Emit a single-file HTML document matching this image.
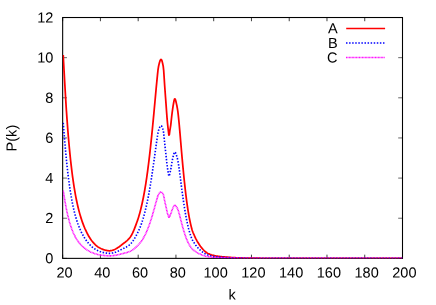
<!DOCTYPE html>
<html><head><meta charset="utf-8"><title>P(k)</title>
<style>
html,body{margin:0;padding:0;background:#fff;}
body{width:436px;height:305px;overflow:hidden;}
svg{display:block;will-change:transform;}
text{text-rendering:geometricPrecision;font-family:"Liberation Sans",sans-serif;font-size:14.53px;fill:#000;}
</style></head><body>
<svg width="436" height="305" viewBox="0 0 436 305">
<rect width="436" height="305" fill="#fff"/>
<g stroke="#000" stroke-width="0.6" fill="none">
<path d="M62.66,17.52h4.3M402.50,17.52h-4.3" stroke-width="0.6"/>
<path d="M62.66,57.66h4.3M402.50,57.66h-4.3" stroke-width="0.6"/>
<path d="M62.66,97.80h4.3M402.50,97.80h-4.3" stroke-width="0.6"/>
<path d="M62.66,137.94h4.3M402.50,137.94h-4.3" stroke-width="0.6"/>
<path d="M62.66,178.09h4.3M402.50,178.09h-4.3" stroke-width="0.6"/>
<path d="M62.66,218.23h4.3M402.50,218.23h-4.3" stroke-width="0.6"/>
<path d="M62.66,258.37h4.3M402.50,258.37h-4.3" stroke-width="0.6"/>
<path d="M62.66,258.37v-3.7M62.66,17.52v3.7" stroke-width="0.75"/>
<path d="M100.42,258.37v-3.7M100.42,17.52v3.7" stroke-width="0.75"/>
<path d="M138.18,258.37v-3.7M138.18,17.52v3.7" stroke-width="0.75"/>
<path d="M175.94,258.37v-3.7M175.94,17.52v3.7" stroke-width="0.75"/>
<path d="M213.70,258.37v-3.7M213.70,17.52v3.7" stroke-width="0.75"/>
<path d="M251.46,258.37v-3.7M251.46,17.52v3.7" stroke-width="0.75"/>
<path d="M289.22,258.37v-3.7M289.22,17.52v3.7" stroke-width="0.75"/>
<path d="M326.98,258.37v-3.7M326.98,17.52v3.7" stroke-width="0.75"/>
<path d="M364.74,258.37v-3.7M364.74,17.52v3.7" stroke-width="0.75"/>
<path d="M402.50,258.37v-3.7M402.50,17.52v3.7" stroke-width="0.75"/>
</g>
<rect x="62.66" y="17.52" width="339.84" height="240.85" fill="none" stroke="#000" stroke-width="1.08"/>
<clipPath id="pa"><rect x="62.66" y="17.52" width="339.84" height="240.85"/></clipPath>
<g fill="none" stroke-linejoin="round" clip-path="url(#pa)">
<path d="M63.23,55.05 L63.60,62.23 L64.08,70.99 L64.55,79.46 L65.02,87.74 L65.49,95.87 L65.96,103.67 L66.44,110.99 L66.91,117.83 L67.38,124.31 L67.85,130.46 L68.32,136.26 L68.80,141.75 L69.27,146.97 L69.74,151.92 L70.21,156.59 L70.68,161.02 L71.16,165.22 L71.63,169.21 L72.10,172.99 L72.57,176.57 L73.04,179.98 L73.52,183.21 L73.99,186.28 L74.46,189.19 L74.93,191.96 L75.40,194.59 L75.88,197.09 L76.35,199.48 L76.82,201.75 L77.29,203.92 L77.76,205.99 L78.24,207.96 L78.71,209.84 L79.18,211.65 L79.65,213.37 L80.12,215.03 L80.60,216.61 L81.07,218.13 L81.54,219.59 L82.01,220.99 L82.48,222.34 L82.96,223.63 L83.43,224.87 L83.90,226.07 L84.37,227.22 L84.84,228.34 L85.32,229.41 L85.79,230.44 L86.26,231.44 L86.73,232.41 L87.20,233.34 L87.68,234.24 L88.15,235.11 L88.62,235.95 L89.09,236.75 L89.56,237.52 L90.04,238.27 L90.51,238.98 L90.98,239.66 L91.45,240.32 L91.92,240.95 L92.40,241.56 L92.87,242.13 L93.34,242.68 L93.81,243.20 L94.28,243.70 L94.76,244.18 L95.23,244.64 L95.70,245.08 L96.17,245.49 L96.64,245.89 L97.12,246.26 L97.59,246.61 L98.06,246.94 L98.53,247.25 L99.00,247.55 L99.48,247.83 L99.95,248.09 L100.42,248.33 L100.89,248.56 L101.36,248.77 L101.84,248.97 L102.31,249.16 L102.78,249.34 L103.25,249.52 L103.72,249.69 L104.20,249.84 L104.67,249.98 L105.14,250.11 L105.61,250.23 L106.08,250.34 L106.56,250.44 L107.03,250.53 L107.50,250.62 L107.97,250.68 L108.44,250.74 L108.92,250.79 L109.39,250.80 L109.86,250.78 L110.33,250.73 L110.80,250.68 L111.28,250.61 L111.75,250.51 L112.22,250.39 L112.69,250.24 L113.16,250.08 L113.64,249.91 L114.11,249.73 L114.58,249.53 L115.05,249.30 L115.52,249.05 L116.00,248.78 L116.47,248.50 L116.94,248.21 L117.41,247.91 L117.88,247.60 L118.36,247.30 L118.83,246.99 L119.30,246.66 L119.77,246.32 L120.24,245.96 L120.72,245.60 L121.19,245.23 L121.66,244.86 L122.13,244.49 L122.60,244.12 L123.08,243.75 L123.55,243.39 L124.02,243.04 L124.49,242.69 L124.96,242.33 L125.44,241.97 L125.91,241.59 L126.38,241.20 L126.85,240.80 L127.32,240.37 L127.80,239.91 L128.27,239.43 L128.74,238.93 L129.21,238.39 L129.68,237.82 L130.16,237.20 L130.63,236.53 L131.10,235.78 L131.57,234.96 L132.04,234.09 L132.52,233.16 L132.99,232.15 L133.46,231.08 L133.93,229.98 L134.40,228.84 L134.88,227.64 L135.35,226.41 L135.82,225.15 L136.29,223.87 L136.76,222.57 L137.24,221.23 L137.71,219.85 L138.18,218.41 L138.65,216.89 L139.12,215.31 L139.60,213.65 L140.07,211.93 L140.54,210.12 L141.01,208.23 L141.48,206.26 L141.96,204.20 L142.43,202.05 L142.90,199.80 L143.37,197.46 L143.84,195.01 L144.32,192.44 L144.79,189.75 L145.26,186.95 L145.73,184.03 L146.20,180.98 L146.68,177.79 L147.15,174.48 L147.62,171.04 L148.09,167.47 L148.56,163.74 L149.04,159.88 L149.51,155.91 L149.98,151.80 L150.45,147.54 L150.92,143.15 L151.40,138.67 L151.87,134.07 L152.34,129.34 L152.81,124.51 L153.28,119.62 L153.76,114.63 L154.23,109.53 L154.70,104.39 L155.17,99.29 L155.64,94.14 L156.12,88.93 L156.59,83.87 L157.06,79.14 L157.53,74.43 L158.00,69.98 L158.48,66.78 L158.95,64.68 L159.42,62.77 L159.89,61.17 L160.36,60.02 L160.84,59.43 L161.31,59.55 L161.78,60.38 L162.25,61.84 L162.72,63.81 L163.20,66.18 L163.67,70.28 L164.14,77.42 L164.61,84.76 L165.08,91.23 L165.56,97.69 L166.03,104.11 L166.50,110.74 L166.97,117.11 L167.44,122.51 L167.92,127.09 L168.39,131.20 L168.86,135.04 L169.33,134.57 L169.80,130.96 L170.28,128.08 L170.75,125.04 L171.22,120.96 L171.69,116.51 L172.16,112.64 L172.64,109.02 L173.11,105.96 L173.58,103.25 L174.05,100.68 L174.52,98.98 L175.00,98.80 L175.47,99.80 L175.94,101.52 L176.41,103.63 L176.88,105.77 L177.36,108.32 L177.83,111.45 L178.30,115.31 L178.77,119.80 L179.24,124.78 L179.72,130.12 L180.19,135.62 L180.66,141.22 L181.13,146.78 L181.60,152.28 L182.08,157.61 L182.55,162.81 L183.02,167.86 L183.49,172.75 L183.96,177.47 L184.44,182.02 L184.91,186.40 L185.38,190.59 L185.85,194.59 L186.32,198.40 L186.80,202.00 L187.27,205.40 L187.74,208.60 L188.21,211.60 L188.68,214.42 L189.16,217.04 L189.63,219.50 L190.10,221.78 L190.57,223.91 L191.04,225.90 L191.52,227.75 L191.99,229.45 L192.46,230.95 L192.93,232.28 L193.40,233.43 L193.88,234.47 L194.35,235.50 L194.82,236.54 L195.29,237.55 L195.76,238.54 L196.24,239.47 L196.71,240.36 L197.18,241.20 L197.65,242.01 L198.12,242.78 L198.60,243.53 L199.07,244.25 L199.54,244.95 L200.01,245.63 L200.48,246.29 L200.96,246.92 L201.43,247.52 L201.90,248.09 L202.37,248.66 L202.84,249.21 L203.32,249.75 L203.79,250.25 L204.26,250.73 L204.73,251.17 L205.20,251.57 L205.68,251.93 L206.15,252.27 L206.62,252.60 L207.09,252.90 L207.56,253.18 L208.04,253.45 L208.51,253.69 L208.98,253.91 L209.45,254.12 L209.92,254.32 L210.40,254.51 L210.87,254.68 L211.34,254.85 L211.81,255.00 L212.28,255.14 L212.76,255.26 L213.23,255.39 L213.70,255.50 L214.17,255.61 L214.64,255.72 L215.12,255.82 L215.59,255.91 L216.06,255.99 L216.53,256.07 L217.00,256.15 L217.48,256.22 L217.95,256.28 L218.42,256.34 L218.89,256.40 L219.36,256.46 L219.84,256.52 L220.31,256.57 L220.78,256.62 L221.25,256.67 L221.72,256.72 L222.20,256.76 L222.67,256.81 L223.14,256.85 L223.61,256.89 L224.08,256.93 L224.56,256.97 L225.03,257.01 L225.50,257.05 L225.97,257.09 L226.44,257.13 L226.92,257.17 L227.39,257.21 L227.86,257.24 L228.33,257.28 L228.80,257.32 L229.28,257.35 L229.75,257.39 L230.22,257.42 L230.69,257.45 L231.16,257.49 L231.64,257.52 L232.11,257.55 L232.58,257.58 L233.05,257.61 L233.52,257.63 L234.00,257.66 L234.47,257.68 L234.94,257.71 L235.41,257.73 L235.88,257.75 L236.36,257.77 L236.83,257.79 L237.30,257.80 L237.77,257.82 L238.24,257.84 L238.72,257.86 L239.19,257.87 L239.66,257.89 L240.13,257.91 L240.60,257.92 L241.08,257.94 L241.55,257.95 L242.02,257.97 L242.49,257.98 L242.96,258.00 L243.44,258.01 L243.91,258.02 L244.38,258.04 L244.85,258.05 L245.32,258.06 L245.80,258.07 L246.27,258.08 L246.74,258.09 L247.21,258.10 L247.68,258.11 L248.16,258.12 L248.63,258.13 L249.10,258.14 L249.57,258.15 L250.04,258.15 L250.52,258.16 L250.99,258.16 L251.46,258.17 L251.93,258.17 L252.40,258.18 L252.88,258.18 L253.35,258.19 L253.82,258.19 L254.29,258.20 L254.76,258.20 L255.24,258.20 L255.71,258.21 L256.18,258.21 L256.65,258.22 L257.12,258.22 L257.60,258.23 L258.07,258.23 L258.54,258.23 L259.01,258.24 L259.48,258.24 L259.96,258.25 L260.43,258.25 L260.90,258.25 L261.37,258.26 L261.84,258.26 L262.32,258.26 L262.79,258.27 L263.26,258.27 L263.73,258.27 L264.20,258.28 L264.68,258.28 L265.15,258.28 L265.62,258.29 L266.09,258.29 L266.56,258.29 L267.04,258.30 L267.51,258.30 L267.98,258.30 L268.45,258.30 L268.92,258.31 L269.40,258.31 L269.87,258.31 L270.34,258.32 L270.81,258.32 L271.28,258.32 L271.76,258.32 L272.23,258.33 L272.70,258.33 L273.17,258.33 L273.64,258.33 L274.12,258.33 L274.59,258.34 L275.06,258.34 L275.53,258.34 L276.00,258.34 L276.48,258.34 L276.95,258.35 L277.42,258.35 L277.89,258.35 L278.36,258.35 L278.84,258.35 L279.31,258.35 L279.78,258.36 L280.25,258.36 L280.72,258.36 L281.20,258.36 L281.67,258.36 L282.14,258.36 L282.61,258.36 L283.08,258.36 L283.56,258.36 L284.03,258.37 L284.50,258.37 L284.97,258.37 L285.44,258.37 L285.92,258.37 L286.39,258.37 L286.86,258.37 L287.33,258.37 L287.80,258.37 L288.28,258.37 L288.75,258.37 L289.22,258.37 L289.69,258.37 L290.16,258.37 L290.64,258.37 L291.11,258.37 L291.58,258.37 L292.05,258.37 L292.52,258.37 L293.00,258.37 L293.47,258.37 L293.94,258.37 L294.41,258.37 L294.88,258.37 L295.36,258.37 L295.83,258.37 L296.30,258.37 L296.77,258.37 L297.24,258.37 L297.72,258.37 L298.19,258.37 L298.66,258.37 L299.13,258.37 L299.60,258.37 L300.08,258.37 L300.55,258.37 L301.02,258.37 L301.49,258.37 L301.96,258.37 L302.44,258.37 L302.91,258.37 L303.38,258.37 L303.85,258.37 L304.32,258.37 L304.80,258.37 L305.27,258.37 L305.74,258.37 L306.21,258.37 L306.68,258.37 L307.16,258.37 L307.63,258.37 L308.10,258.37 L308.57,258.37 L309.04,258.37 L309.52,258.37 L309.99,258.37 L310.46,258.37 L310.93,258.37 L311.40,258.37 L311.88,258.37 L312.35,258.37 L312.82,258.37 L313.29,258.37 L313.76,258.37 L314.24,258.37 L314.71,258.37 L315.18,258.37 L315.65,258.37 L316.12,258.37 L316.60,258.37 L317.07,258.37 L317.54,258.37 L318.01,258.37 L318.48,258.37 L318.96,258.37 L319.43,258.37 L319.90,258.37 L320.37,258.37 L320.84,258.37 L321.32,258.37 L321.79,258.37 L322.26,258.37 L322.73,258.37 L323.20,258.37 L323.68,258.37 L324.15,258.37 L324.62,258.37 L325.09,258.37 L325.56,258.37 L326.04,258.37 L326.51,258.37 L326.98,258.37 L327.45,258.37 L327.92,258.37 L328.40,258.37 L328.87,258.37 L329.34,258.37 L329.81,258.37 L330.28,258.37 L330.76,258.37 L331.23,258.37 L331.70,258.37 L332.17,258.37 L332.64,258.37 L333.12,258.37 L333.59,258.37 L334.06,258.37 L334.53,258.37 L335.00,258.37 L335.48,258.37 L335.95,258.37 L336.42,258.37 L336.89,258.37 L337.36,258.37 L337.84,258.37 L338.31,258.37 L338.78,258.37 L339.25,258.37 L339.72,258.37 L340.20,258.37 L340.67,258.37 L341.14,258.37 L341.61,258.37 L342.08,258.37 L342.56,258.37 L343.03,258.37 L343.50,258.37 L343.97,258.37 L344.44,258.37 L344.92,258.37 L345.39,258.37 L345.86,258.37 L346.33,258.37 L346.80,258.37 L347.28,258.37 L347.75,258.37 L348.22,258.37 L348.69,258.37 L349.16,258.37 L349.64,258.37 L350.11,258.37 L350.58,258.37 L351.05,258.37 L351.52,258.37 L352.00,258.37 L352.47,258.37 L352.94,258.37 L353.41,258.37 L353.88,258.37 L354.36,258.37 L354.83,258.37 L355.30,258.37 L355.77,258.37 L356.24,258.37 L356.72,258.37 L357.19,258.37 L357.66,258.37 L358.13,258.37 L358.60,258.37 L359.08,258.37 L359.55,258.37 L360.02,258.37 L360.49,258.37 L360.96,258.37 L361.44,258.37 L361.91,258.37 L362.38,258.37 L362.85,258.37 L363.32,258.37 L363.80,258.37 L364.27,258.37 L364.74,258.37 L365.21,258.37 L365.68,258.37 L366.16,258.37 L366.63,258.37 L367.10,258.37 L367.57,258.37 L368.04,258.37 L368.52,258.37 L368.99,258.37 L369.46,258.37 L369.93,258.37 L370.40,258.37 L370.88,258.37 L371.35,258.37 L371.82,258.37 L372.29,258.37 L372.76,258.37 L373.24,258.37 L373.71,258.37 L374.18,258.37 L374.65,258.37 L375.12,258.37 L375.60,258.37 L376.07,258.37 L376.54,258.37 L377.01,258.37 L377.48,258.37 L377.96,258.37 L378.43,258.37 L378.90,258.37 L379.37,258.37 L379.84,258.37 L380.32,258.37 L380.79,258.37 L381.26,258.37 L381.73,258.37 L382.20,258.37 L382.68,258.37 L383.15,258.37 L383.62,258.37 L384.09,258.37 L384.56,258.37 L385.04,258.37 L385.51,258.37 L385.98,258.37 L386.45,258.37 L386.92,258.37 L387.40,258.37 L387.87,258.37 L388.34,258.37 L388.81,258.37 L389.28,258.37 L389.76,258.37 L390.23,258.37 L390.70,258.37 L391.17,258.37 L391.64,258.37 L392.12,258.37 L392.59,258.37 L393.06,258.37 L393.53,258.37 L394.00,258.37 L394.48,258.37 L394.95,258.37 L395.42,258.37 L395.89,258.37 L396.36,258.37 L396.84,258.37 L397.31,258.37 L397.78,258.37 L398.25,258.37 L398.72,258.37 L399.20,258.37 L399.67,258.37 L400.14,258.37 L400.61,258.37 L401.08,258.37 L401.56,258.37 L402.03,258.37 L402.50,258.37" stroke="#ff0000" stroke-width="1.75"/>
<path d="M63.23,122.82 L63.60,127.61 L64.08,133.45 L64.55,139.10 L65.02,144.62 L65.49,150.04 L65.96,155.24 L66.44,160.12 L66.91,164.67 L67.38,169.00 L67.85,173.09 L68.32,176.96 L68.80,180.63 L69.27,184.10 L69.74,187.40 L70.21,190.52 L70.68,193.47 L71.16,196.27 L71.63,198.93 L72.10,201.45 L72.57,203.84 L73.04,206.11 L73.52,208.26 L73.99,210.31 L74.46,212.25 L74.93,214.09 L75.40,215.85 L75.88,217.52 L76.35,219.11 L76.82,220.62 L77.29,222.07 L77.76,223.45 L78.24,224.76 L78.71,226.02 L79.18,227.22 L79.65,228.37 L80.12,229.47 L80.60,230.53 L81.07,231.55 L81.54,232.52 L82.01,233.45 L82.48,234.35 L82.96,235.21 L83.43,236.04 L83.90,236.84 L84.37,237.61 L84.84,238.35 L85.32,239.06 L85.79,239.75 L86.26,240.42 L86.73,241.06 L87.20,241.68 L87.68,242.28 L88.15,242.86 L88.62,243.42 L89.09,243.96 L89.56,244.47 L90.04,244.97 L90.51,245.44 L90.98,245.90 L91.45,246.34 L91.92,246.76 L92.40,247.16 L92.87,247.55 L93.34,247.91 L93.81,248.26 L94.28,248.59 L94.76,248.91 L95.23,249.21 L95.70,249.51 L96.17,249.79 L96.64,250.05 L97.12,250.29 L97.59,250.53 L98.06,250.75 L98.53,250.96 L99.00,251.15 L99.48,251.34 L99.95,251.52 L100.42,251.68 L100.89,251.83 L101.36,251.97 L101.84,252.10 L102.31,252.23 L102.78,252.35 L103.25,252.47 L103.72,252.58 L104.20,252.68 L104.67,252.78 L105.14,252.86 L105.61,252.95 L106.08,253.02 L106.56,253.08 L107.03,253.15 L107.50,253.20 L107.97,253.25 L108.44,253.29 L108.92,253.32 L109.39,253.32 L109.86,253.31 L110.33,253.28 L110.80,253.25 L111.28,253.20 L111.75,253.13 L112.22,253.05 L112.69,252.95 L113.16,252.84 L113.64,252.73 L114.11,252.61 L114.58,252.48 L115.05,252.32 L115.52,252.16 L116.00,251.98 L116.47,251.79 L116.94,251.59 L117.41,251.39 L117.88,251.19 L118.36,250.99 L118.83,250.78 L119.30,250.56 L119.77,250.33 L120.24,250.10 L120.72,249.86 L121.19,249.61 L121.66,249.36 L122.13,249.12 L122.60,248.87 L123.08,248.63 L123.55,248.39 L124.02,248.15 L124.49,247.91 L124.96,247.68 L125.44,247.43 L125.91,247.18 L126.38,246.93 L126.85,246.65 L127.32,246.37 L127.80,246.07 L128.27,245.75 L128.74,245.41 L129.21,245.05 L129.68,244.67 L130.16,244.26 L130.63,243.81 L131.10,243.31 L131.57,242.76 L132.04,242.18 L132.52,241.56 L132.99,240.89 L133.46,240.18 L133.93,239.44 L134.40,238.68 L134.88,237.89 L135.35,237.07 L135.82,236.22 L136.29,235.37 L136.76,234.50 L137.24,233.61 L137.71,232.69 L138.18,231.73 L138.65,230.72 L139.12,229.66 L139.60,228.56 L140.07,227.41 L140.54,226.20 L141.01,224.94 L141.48,223.63 L141.96,222.26 L142.43,220.82 L142.90,219.33 L143.37,217.76 L143.84,216.13 L144.32,214.42 L144.79,212.63 L145.26,210.75 L145.73,208.81 L146.20,206.78 L146.68,204.65 L147.15,202.44 L147.62,200.15 L148.09,197.77 L148.56,195.29 L149.04,192.71 L149.51,190.06 L149.98,187.32 L150.45,184.48 L150.92,181.56 L151.40,178.57 L151.87,175.50 L152.34,172.35 L152.81,169.13 L153.28,165.87 L153.76,162.54 L154.23,159.14 L154.70,155.72 L155.17,152.32 L155.64,148.88 L156.12,145.41 L156.59,142.03 L157.06,138.88 L157.53,135.75 L158.00,132.78 L158.48,130.64 L158.95,129.24 L159.42,127.97 L159.89,126.90 L160.36,126.14 L160.84,125.75 L161.31,125.82 L161.78,126.38 L162.25,127.35 L162.72,128.66 L163.20,130.24 L163.67,132.98 L164.14,137.74 L164.61,142.63 L165.08,146.94 L165.56,151.25 L166.03,155.53 L166.50,159.95 L166.97,164.20 L167.44,167.80 L167.92,170.85 L168.39,173.59 L168.86,176.15 L169.33,175.84 L169.80,173.43 L170.28,171.51 L170.75,169.48 L171.22,166.76 L171.69,163.80 L172.16,161.21 L172.64,158.80 L173.11,156.76 L173.58,154.96 L174.05,153.24 L174.52,152.11 L175.00,151.99 L175.47,152.65 L175.94,153.80 L176.41,155.21 L176.88,156.64 L177.36,158.34 L177.83,160.42 L178.30,163.00 L178.77,165.99 L179.24,169.31 L179.72,172.87 L180.19,176.54 L180.66,180.27 L181.13,183.98 L181.60,187.64 L182.08,191.20 L182.55,194.67 L183.02,198.03 L183.49,201.29 L183.96,204.44 L184.44,207.47 L184.91,210.39 L185.38,213.18 L185.85,215.85 L186.32,218.39 L186.80,220.79 L187.27,223.06 L187.74,225.19 L188.21,227.19 L188.68,229.07 L189.16,230.82 L189.63,232.45 L190.10,233.98 L190.57,235.40 L191.04,236.72 L191.52,237.96 L191.99,239.09 L192.46,240.09 L192.93,240.98 L193.40,241.74 L193.88,242.44 L194.35,243.13 L194.82,243.81 L195.29,244.49 L195.76,245.15 L196.24,245.77 L196.71,246.36 L197.18,246.92 L197.65,247.46 L198.12,247.98 L198.60,248.47 L199.07,248.95 L199.54,249.42 L200.01,249.88 L200.48,250.32 L200.96,250.74 L201.43,251.14 L201.90,251.52 L202.37,251.90 L202.84,252.27 L203.32,252.62 L203.79,252.96 L204.26,253.28 L204.73,253.57 L205.20,253.83 L205.68,254.08 L206.15,254.31 L206.62,254.52 L207.09,254.72 L207.56,254.91 L208.04,255.09 L208.51,255.25 L208.98,255.40 L209.45,255.54 L209.92,255.67 L210.40,255.80 L210.87,255.91 L211.34,256.02 L211.81,256.12 L212.28,256.21 L212.76,256.30 L213.23,256.38 L213.70,256.46 L214.17,256.53 L214.64,256.60 L215.12,256.67 L215.59,256.73 L216.06,256.79 L216.53,256.84 L217.00,256.89 L217.48,256.93 L217.95,256.98 L218.42,257.02 L218.89,257.06 L219.36,257.10 L219.84,257.13 L220.31,257.17 L220.78,257.20 L221.25,257.24 L221.72,257.27 L222.20,257.30 L222.67,257.33 L223.14,257.36 L223.61,257.38 L224.08,257.41 L224.56,257.44 L225.03,257.47 L225.50,257.49 L225.97,257.52 L226.44,257.54 L226.92,257.57 L227.39,257.59 L227.86,257.62 L228.33,257.64 L228.80,257.67 L229.28,257.69 L229.75,257.72 L230.22,257.74 L230.69,257.76 L231.16,257.78 L231.64,257.80 L232.11,257.82 L232.58,257.84 L233.05,257.86 L233.52,257.88 L234.00,257.90 L234.47,257.91 L234.94,257.93 L235.41,257.94 L235.88,257.96 L236.36,257.97 L236.83,257.98 L237.30,257.99 L237.77,258.00 L238.24,258.02 L238.72,258.03 L239.19,258.04 L239.66,258.05 L240.13,258.06 L240.60,258.07 L241.08,258.08 L241.55,258.09 L242.02,258.10 L242.49,258.11 L242.96,258.12 L243.44,258.13 L243.91,258.14 L244.38,258.15 L244.85,258.16 L245.32,258.16 L245.80,258.17 L246.27,258.18 L246.74,258.19 L247.21,258.19 L247.68,258.20 L248.16,258.20 L248.63,258.21 L249.10,258.22 L249.57,258.22 L250.04,258.23 L250.52,258.23 L250.99,258.23 L251.46,258.24 L251.93,258.24 L252.40,258.24 L252.88,258.25 L253.35,258.25 L253.82,258.25 L254.29,258.25 L254.76,258.26 L255.24,258.26 L255.71,258.26 L256.18,258.27 L256.65,258.27 L257.12,258.27 L257.60,258.27 L258.07,258.28 L258.54,258.28 L259.01,258.28 L259.48,258.28 L259.96,258.29 L260.43,258.29 L260.90,258.29 L261.37,258.29 L261.84,258.30 L262.32,258.30 L262.79,258.30 L263.26,258.30 L263.73,258.31 L264.20,258.31 L264.68,258.31 L265.15,258.31 L265.62,258.31 L266.09,258.32 L266.56,258.32 L267.04,258.32 L267.51,258.32 L267.98,258.32 L268.45,258.33 L268.92,258.33 L269.40,258.33 L269.87,258.33 L270.34,258.33 L270.81,258.34 L271.28,258.34 L271.76,258.34 L272.23,258.34 L272.70,258.34 L273.17,258.34 L273.64,258.35 L274.12,258.35 L274.59,258.35 L275.06,258.35 L275.53,258.35 L276.00,258.35 L276.48,258.35 L276.95,258.35 L277.42,258.36 L277.89,258.36 L278.36,258.36 L278.84,258.36 L279.31,258.36 L279.78,258.36 L280.25,258.36 L280.72,258.36 L281.20,258.36 L281.67,258.36 L282.14,258.36 L282.61,258.37 L283.08,258.37 L283.56,258.37 L284.03,258.37 L284.50,258.37 L284.97,258.37 L285.44,258.37 L285.92,258.37 L286.39,258.37 L286.86,258.37 L287.33,258.37 L287.80,258.37 L288.28,258.37 L288.75,258.37 L289.22,258.37 L289.69,258.37 L290.16,258.37 L290.64,258.37 L291.11,258.37 L291.58,258.37 L292.05,258.37 L292.52,258.37 L293.00,258.37 L293.47,258.37 L293.94,258.37 L294.41,258.37 L294.88,258.37 L295.36,258.37 L295.83,258.37 L296.30,258.37 L296.77,258.37 L297.24,258.37 L297.72,258.37 L298.19,258.37 L298.66,258.37 L299.13,258.37 L299.60,258.37 L300.08,258.37 L300.55,258.37 L301.02,258.37 L301.49,258.37 L301.96,258.37 L302.44,258.37 L302.91,258.37 L303.38,258.37 L303.85,258.37 L304.32,258.37 L304.80,258.37 L305.27,258.37 L305.74,258.37 L306.21,258.37 L306.68,258.37 L307.16,258.37 L307.63,258.37 L308.10,258.37 L308.57,258.37 L309.04,258.37 L309.52,258.37 L309.99,258.37 L310.46,258.37 L310.93,258.37 L311.40,258.37 L311.88,258.37 L312.35,258.37 L312.82,258.37 L313.29,258.37 L313.76,258.37 L314.24,258.37 L314.71,258.37 L315.18,258.37 L315.65,258.37 L316.12,258.37 L316.60,258.37 L317.07,258.37 L317.54,258.37 L318.01,258.37 L318.48,258.37 L318.96,258.37 L319.43,258.37 L319.90,258.37 L320.37,258.37 L320.84,258.37 L321.32,258.37 L321.79,258.37 L322.26,258.37 L322.73,258.37 L323.20,258.37 L323.68,258.37 L324.15,258.37 L324.62,258.37 L325.09,258.37 L325.56,258.37 L326.04,258.37 L326.51,258.37 L326.98,258.37 L327.45,258.37 L327.92,258.37 L328.40,258.37 L328.87,258.37 L329.34,258.37 L329.81,258.37 L330.28,258.37 L330.76,258.37 L331.23,258.37 L331.70,258.37 L332.17,258.37 L332.64,258.37 L333.12,258.37 L333.59,258.37 L334.06,258.37 L334.53,258.37 L335.00,258.37 L335.48,258.37 L335.95,258.37 L336.42,258.37 L336.89,258.37 L337.36,258.37 L337.84,258.37 L338.31,258.37 L338.78,258.37 L339.25,258.37 L339.72,258.37 L340.20,258.37 L340.67,258.37 L341.14,258.37 L341.61,258.37 L342.08,258.37 L342.56,258.37 L343.03,258.37 L343.50,258.37 L343.97,258.37 L344.44,258.37 L344.92,258.37 L345.39,258.37 L345.86,258.37 L346.33,258.37 L346.80,258.37 L347.28,258.37 L347.75,258.37 L348.22,258.37 L348.69,258.37 L349.16,258.37 L349.64,258.37 L350.11,258.37 L350.58,258.37 L351.05,258.37 L351.52,258.37 L352.00,258.37 L352.47,258.37 L352.94,258.37 L353.41,258.37 L353.88,258.37 L354.36,258.37 L354.83,258.37 L355.30,258.37 L355.77,258.37 L356.24,258.37 L356.72,258.37 L357.19,258.37 L357.66,258.37 L358.13,258.37 L358.60,258.37 L359.08,258.37 L359.55,258.37 L360.02,258.37 L360.49,258.37 L360.96,258.37 L361.44,258.37 L361.91,258.37 L362.38,258.37 L362.85,258.37 L363.32,258.37 L363.80,258.37 L364.27,258.37 L364.74,258.37 L365.21,258.37 L365.68,258.37 L366.16,258.37 L366.63,258.37 L367.10,258.37 L367.57,258.37 L368.04,258.37 L368.52,258.37 L368.99,258.37 L369.46,258.37 L369.93,258.37 L370.40,258.37 L370.88,258.37 L371.35,258.37 L371.82,258.37 L372.29,258.37 L372.76,258.37 L373.24,258.37 L373.71,258.37 L374.18,258.37 L374.65,258.37 L375.12,258.37 L375.60,258.37 L376.07,258.37 L376.54,258.37 L377.01,258.37 L377.48,258.37 L377.96,258.37 L378.43,258.37 L378.90,258.37 L379.37,258.37 L379.84,258.37 L380.32,258.37 L380.79,258.37 L381.26,258.37 L381.73,258.37 L382.20,258.37 L382.68,258.37 L383.15,258.37 L383.62,258.37 L384.09,258.37 L384.56,258.37 L385.04,258.37 L385.51,258.37 L385.98,258.37 L386.45,258.37 L386.92,258.37 L387.40,258.37 L387.87,258.37 L388.34,258.37 L388.81,258.37 L389.28,258.37 L389.76,258.37 L390.23,258.37 L390.70,258.37 L391.17,258.37 L391.64,258.37 L392.12,258.37 L392.59,258.37 L393.06,258.37 L393.53,258.37 L394.00,258.37 L394.48,258.37 L394.95,258.37 L395.42,258.37 L395.89,258.37 L396.36,258.37 L396.84,258.37 L397.31,258.37 L397.78,258.37 L398.25,258.37 L398.72,258.37 L399.20,258.37 L399.67,258.37 L400.14,258.37 L400.61,258.37 L401.08,258.37 L401.56,258.37 L402.03,258.37 L402.50,258.37" stroke="#0000ff" stroke-width="1.65" stroke-dasharray="1.45,1.63"/>
<path d="M63.23,190.60 L63.60,192.99 L64.08,195.91 L64.55,198.73 L65.02,201.49 L65.49,204.20 L65.96,206.80 L66.44,209.24 L66.91,211.52 L67.38,213.68 L67.85,215.73 L68.32,217.67 L68.80,219.50 L69.27,221.24 L69.74,222.89 L70.21,224.44 L70.68,225.92 L71.16,227.32 L71.63,228.65 L72.10,229.91 L72.57,231.10 L73.04,232.24 L73.52,233.32 L73.99,234.34 L74.46,235.31 L74.93,236.23 L75.40,237.11 L75.88,237.94 L76.35,238.74 L76.82,239.50 L77.29,240.22 L77.76,240.91 L78.24,241.57 L78.71,242.19 L79.18,242.80 L79.65,243.37 L80.12,243.92 L80.60,244.45 L81.07,244.96 L81.54,245.44 L82.01,245.91 L82.48,246.36 L82.96,246.79 L83.43,247.20 L83.90,247.60 L84.37,247.99 L84.84,248.36 L85.32,248.72 L85.79,249.06 L86.26,249.39 L86.73,249.72 L87.20,250.03 L87.68,250.33 L88.15,250.62 L88.62,250.90 L89.09,251.16 L89.56,251.42 L90.04,251.67 L90.51,251.91 L90.98,252.13 L91.45,252.35 L91.92,252.56 L92.40,252.77 L92.87,252.96 L93.34,253.14 L93.81,253.31 L94.28,253.48 L94.76,253.64 L95.23,253.79 L95.70,253.94 L96.17,254.08 L96.64,254.21 L97.12,254.33 L97.59,254.45 L98.06,254.56 L98.53,254.66 L99.00,254.76 L99.48,254.86 L99.95,254.94 L100.42,255.02 L100.89,255.10 L101.36,255.17 L101.84,255.24 L102.31,255.30 L102.78,255.36 L103.25,255.42 L103.72,255.48 L104.20,255.53 L104.67,255.57 L105.14,255.62 L105.61,255.66 L106.08,255.69 L106.56,255.73 L107.03,255.76 L107.50,255.79 L107.97,255.81 L108.44,255.83 L108.92,255.84 L109.39,255.85 L109.86,255.84 L110.33,255.82 L110.80,255.81 L111.28,255.78 L111.75,255.75 L112.22,255.71 L112.69,255.66 L113.16,255.61 L113.64,255.55 L114.11,255.49 L114.58,255.42 L115.05,255.35 L115.52,255.26 L116.00,255.17 L116.47,255.08 L116.94,254.98 L117.41,254.88 L117.88,254.78 L118.36,254.68 L118.83,254.58 L119.30,254.47 L119.77,254.35 L120.24,254.23 L120.72,254.11 L121.19,253.99 L121.66,253.87 L122.13,253.74 L122.60,253.62 L123.08,253.50 L123.55,253.38 L124.02,253.26 L124.49,253.14 L124.96,253.02 L125.44,252.90 L125.91,252.78 L126.38,252.65 L126.85,252.51 L127.32,252.37 L127.80,252.22 L128.27,252.06 L128.74,251.89 L129.21,251.71 L129.68,251.52 L130.16,251.31 L130.63,251.09 L131.10,250.84 L131.57,250.57 L132.04,250.28 L132.52,249.97 L132.99,249.63 L133.46,249.27 L133.93,248.91 L134.40,248.53 L134.88,248.13 L135.35,247.72 L135.82,247.30 L136.29,246.87 L136.76,246.44 L137.24,245.99 L137.71,245.53 L138.18,245.05 L138.65,244.54 L139.12,244.02 L139.60,243.46 L140.07,242.89 L140.54,242.29 L141.01,241.66 L141.48,241.00 L141.96,240.31 L142.43,239.60 L142.90,238.85 L143.37,238.07 L143.84,237.25 L144.32,236.39 L144.79,235.50 L145.26,234.56 L145.73,233.59 L146.20,232.57 L146.68,231.51 L147.15,230.41 L147.62,229.26 L148.09,228.07 L148.56,226.83 L149.04,225.54 L149.51,224.22 L149.98,222.85 L150.45,221.43 L150.92,219.96 L151.40,218.47 L151.87,216.94 L152.34,215.36 L152.81,213.75 L153.28,212.12 L153.76,210.46 L154.23,208.76 L154.70,207.04 L155.17,205.34 L155.64,203.63 L156.12,201.89 L156.59,200.20 L157.06,198.63 L157.53,197.06 L158.00,195.57 L158.48,194.51 L158.95,193.81 L159.42,193.17 L159.89,192.64 L160.36,192.25 L160.84,192.06 L161.31,192.10 L161.78,192.37 L162.25,192.86 L162.72,193.52 L163.20,194.31 L163.67,195.67 L164.14,198.05 L164.61,200.50 L165.08,202.66 L165.56,204.81 L166.03,206.95 L166.50,209.16 L166.97,211.28 L167.44,213.08 L167.92,214.61 L168.39,215.98 L168.86,217.26 L169.33,217.10 L169.80,215.90 L170.28,214.94 L170.75,213.93 L171.22,212.57 L171.69,211.08 L172.16,209.79 L172.64,208.59 L173.11,207.57 L173.58,206.66 L174.05,205.81 L174.52,205.24 L175.00,205.18 L175.47,205.51 L175.94,206.09 L176.41,206.79 L176.88,207.50 L177.36,208.35 L177.83,209.40 L178.30,210.68 L178.77,212.18 L179.24,213.84 L179.72,215.62 L180.19,217.45 L180.66,219.32 L181.13,221.17 L181.60,223.01 L182.08,224.78 L182.55,226.52 L183.02,228.20 L183.49,229.83 L183.96,231.40 L184.44,232.92 L184.91,234.38 L185.38,235.78 L185.85,237.11 L186.32,238.38 L186.80,239.58 L187.27,240.71 L187.74,241.78 L188.21,242.78 L188.68,243.72 L189.16,244.59 L189.63,245.41 L190.10,246.17 L190.57,246.88 L191.04,247.55 L191.52,248.16 L191.99,248.73 L192.46,249.23 L192.93,249.67 L193.40,250.06 L193.88,250.40 L194.35,250.75 L194.82,251.09 L195.29,251.43 L195.76,251.76 L196.24,252.07 L196.71,252.37 L197.18,252.65 L197.65,252.92 L198.12,253.17 L198.60,253.42 L199.07,253.66 L199.54,253.90 L200.01,254.12 L200.48,254.34 L200.96,254.55 L201.43,254.75 L201.90,254.94 L202.37,255.13 L202.84,255.32 L203.32,255.50 L203.79,255.66 L204.26,255.82 L204.73,255.97 L205.20,256.10 L205.68,256.22 L206.15,256.34 L206.62,256.45 L207.09,256.55 L207.56,256.64 L208.04,256.73 L208.51,256.81 L208.98,256.88 L209.45,256.95 L209.92,257.02 L210.40,257.08 L210.87,257.14 L211.34,257.20 L211.81,257.25 L212.28,257.29 L212.76,257.33 L213.23,257.38 L213.70,257.41 L214.17,257.45 L214.64,257.49 L215.12,257.52 L215.59,257.55 L216.06,257.58 L216.53,257.60 L217.00,257.63 L217.48,257.65 L217.95,257.67 L218.42,257.69 L218.89,257.71 L219.36,257.73 L219.84,257.75 L220.31,257.77 L220.78,257.79 L221.25,257.80 L221.72,257.82 L222.20,257.83 L222.67,257.85 L223.14,257.86 L223.61,257.88 L224.08,257.89 L224.56,257.90 L225.03,257.92 L225.50,257.93 L225.97,257.94 L226.44,257.96 L226.92,257.97 L227.39,257.98 L227.86,257.99 L228.33,258.01 L228.80,258.02 L229.28,258.03 L229.75,258.04 L230.22,258.05 L230.69,258.06 L231.16,258.08 L231.64,258.09 L232.11,258.10 L232.58,258.11 L233.05,258.12 L233.52,258.12 L234.00,258.13 L234.47,258.14 L234.94,258.15 L235.41,258.16 L235.88,258.16 L236.36,258.17 L236.83,258.18 L237.30,258.18 L237.77,258.19 L238.24,258.19 L238.72,258.20 L239.19,258.20 L239.66,258.21 L240.13,258.22 L240.60,258.22 L241.08,258.23 L241.55,258.23 L242.02,258.24 L242.49,258.24 L242.96,258.25 L243.44,258.25 L243.91,258.25 L244.38,258.26 L244.85,258.26 L245.32,258.27 L245.80,258.27 L246.27,258.27 L246.74,258.28 L247.21,258.28 L247.68,258.28 L248.16,258.29 L248.63,258.29 L249.10,258.29 L249.57,258.30 L250.04,258.30 L250.52,258.30 L250.99,258.30 L251.46,258.30 L251.93,258.30 L252.40,258.31 L252.88,258.31 L253.35,258.31 L253.82,258.31 L254.29,258.31 L254.76,258.31 L255.24,258.31 L255.71,258.32 L256.18,258.32 L256.65,258.32 L257.12,258.32 L257.60,258.32 L258.07,258.32 L258.54,258.32 L259.01,258.33 L259.48,258.33 L259.96,258.33 L260.43,258.33 L260.90,258.33 L261.37,258.33 L261.84,258.33 L262.32,258.33 L262.79,258.34 L263.26,258.34 L263.73,258.34 L264.20,258.34 L264.68,258.34 L265.15,258.34 L265.62,258.34 L266.09,258.34 L266.56,258.34 L267.04,258.35 L267.51,258.35 L267.98,258.35 L268.45,258.35 L268.92,258.35 L269.40,258.35 L269.87,258.35 L270.34,258.35 L270.81,258.35 L271.28,258.35 L271.76,258.35 L272.23,258.36 L272.70,258.36 L273.17,258.36 L273.64,258.36 L274.12,258.36 L274.59,258.36 L275.06,258.36 L275.53,258.36 L276.00,258.36 L276.48,258.36 L276.95,258.36 L277.42,258.36 L277.89,258.36 L278.36,258.36 L278.84,258.36 L279.31,258.36 L279.78,258.37 L280.25,258.37 L280.72,258.37 L281.20,258.37 L281.67,258.37 L282.14,258.37 L282.61,258.37 L283.08,258.37 L283.56,258.37 L284.03,258.37 L284.50,258.37 L284.97,258.37 L285.44,258.37 L285.92,258.37 L286.39,258.37 L286.86,258.37 L287.33,258.37 L287.80,258.37 L288.28,258.37 L288.75,258.37 L289.22,258.37 L289.69,258.37 L290.16,258.37 L290.64,258.37 L291.11,258.37 L291.58,258.37 L292.05,258.37 L292.52,258.37 L293.00,258.37 L293.47,258.37 L293.94,258.37 L294.41,258.37 L294.88,258.37 L295.36,258.37 L295.83,258.37 L296.30,258.37 L296.77,258.37 L297.24,258.37 L297.72,258.37 L298.19,258.37 L298.66,258.37 L299.13,258.37 L299.60,258.37 L300.08,258.37 L300.55,258.37 L301.02,258.37 L301.49,258.37 L301.96,258.37 L302.44,258.37 L302.91,258.37 L303.38,258.37 L303.85,258.37 L304.32,258.37 L304.80,258.37 L305.27,258.37 L305.74,258.37 L306.21,258.37 L306.68,258.37 L307.16,258.37 L307.63,258.37 L308.10,258.37 L308.57,258.37 L309.04,258.37 L309.52,258.37 L309.99,258.37 L310.46,258.37 L310.93,258.37 L311.40,258.37 L311.88,258.37 L312.35,258.37 L312.82,258.37 L313.29,258.37 L313.76,258.37 L314.24,258.37 L314.71,258.37 L315.18,258.37 L315.65,258.37 L316.12,258.37 L316.60,258.37 L317.07,258.37 L317.54,258.37 L318.01,258.37 L318.48,258.37 L318.96,258.37 L319.43,258.37 L319.90,258.37 L320.37,258.37 L320.84,258.37 L321.32,258.37 L321.79,258.37 L322.26,258.37 L322.73,258.37 L323.20,258.37 L323.68,258.37 L324.15,258.37 L324.62,258.37 L325.09,258.37 L325.56,258.37 L326.04,258.37 L326.51,258.37 L326.98,258.37 L327.45,258.37 L327.92,258.37 L328.40,258.37 L328.87,258.37 L329.34,258.37 L329.81,258.37 L330.28,258.37 L330.76,258.37 L331.23,258.37 L331.70,258.37 L332.17,258.37 L332.64,258.37 L333.12,258.37 L333.59,258.37 L334.06,258.37 L334.53,258.37 L335.00,258.37 L335.48,258.37 L335.95,258.37 L336.42,258.37 L336.89,258.37 L337.36,258.37 L337.84,258.37 L338.31,258.37 L338.78,258.37 L339.25,258.37 L339.72,258.37 L340.20,258.37 L340.67,258.37 L341.14,258.37 L341.61,258.37 L342.08,258.37 L342.56,258.37 L343.03,258.37 L343.50,258.37 L343.97,258.37 L344.44,258.37 L344.92,258.37 L345.39,258.37 L345.86,258.37 L346.33,258.37 L346.80,258.37 L347.28,258.37 L347.75,258.37 L348.22,258.37 L348.69,258.37 L349.16,258.37 L349.64,258.37 L350.11,258.37 L350.58,258.37 L351.05,258.37 L351.52,258.37 L352.00,258.37 L352.47,258.37 L352.94,258.37 L353.41,258.37 L353.88,258.37 L354.36,258.37 L354.83,258.37 L355.30,258.37 L355.77,258.37 L356.24,258.37 L356.72,258.37 L357.19,258.37 L357.66,258.37 L358.13,258.37 L358.60,258.37 L359.08,258.37 L359.55,258.37 L360.02,258.37 L360.49,258.37 L360.96,258.37 L361.44,258.37 L361.91,258.37 L362.38,258.37 L362.85,258.37 L363.32,258.37 L363.80,258.37 L364.27,258.37 L364.74,258.37 L365.21,258.37 L365.68,258.37 L366.16,258.37 L366.63,258.37 L367.10,258.37 L367.57,258.37 L368.04,258.37 L368.52,258.37 L368.99,258.37 L369.46,258.37 L369.93,258.37 L370.40,258.37 L370.88,258.37 L371.35,258.37 L371.82,258.37 L372.29,258.37 L372.76,258.37 L373.24,258.37 L373.71,258.37 L374.18,258.37 L374.65,258.37 L375.12,258.37 L375.60,258.37 L376.07,258.37 L376.54,258.37 L377.01,258.37 L377.48,258.37 L377.96,258.37 L378.43,258.37 L378.90,258.37 L379.37,258.37 L379.84,258.37 L380.32,258.37 L380.79,258.37 L381.26,258.37 L381.73,258.37 L382.20,258.37 L382.68,258.37 L383.15,258.37 L383.62,258.37 L384.09,258.37 L384.56,258.37 L385.04,258.37 L385.51,258.37 L385.98,258.37 L386.45,258.37 L386.92,258.37 L387.40,258.37 L387.87,258.37 L388.34,258.37 L388.81,258.37 L389.28,258.37 L389.76,258.37 L390.23,258.37 L390.70,258.37 L391.17,258.37 L391.64,258.37 L392.12,258.37 L392.59,258.37 L393.06,258.37 L393.53,258.37 L394.00,258.37 L394.48,258.37 L394.95,258.37 L395.42,258.37 L395.89,258.37 L396.36,258.37 L396.84,258.37 L397.31,258.37 L397.78,258.37 L398.25,258.37 L398.72,258.37 L399.20,258.37 L399.67,258.37 L400.14,258.37 L400.61,258.37 L401.08,258.37 L401.56,258.37 L402.03,258.37 L402.50,258.37" stroke="#ff00ff" stroke-width="1.65" stroke-dasharray="0.95,0.5"/>
</g>
<g>
<text transform="translate(53.4,22.42) rotate(0.05)" text-anchor="end">12</text>
<text transform="translate(53.4,62.56) rotate(0.05)" text-anchor="end">10</text>
<text transform="translate(53.4,102.70) rotate(0.05)" text-anchor="end">8</text>
<text transform="translate(53.4,142.84) rotate(0.05)" text-anchor="end">6</text>
<text transform="translate(53.4,182.99) rotate(0.05)" text-anchor="end">4</text>
<text transform="translate(53.4,223.13) rotate(0.05)" text-anchor="end">2</text>
<text transform="translate(53.4,263.27) rotate(0.05)" text-anchor="end">0</text>
<text transform="translate(64.56,277.6) rotate(0.05)" text-anchor="middle">20</text>
<text transform="translate(102.32,277.6) rotate(0.05)" text-anchor="middle">40</text>
<text transform="translate(140.08,277.6) rotate(0.05)" text-anchor="middle">60</text>
<text transform="translate(177.84,277.6) rotate(0.05)" text-anchor="middle">80</text>
<text transform="translate(215.60,277.6) rotate(0.05)" text-anchor="middle">100</text>
<text transform="translate(253.36,277.6) rotate(0.05)" text-anchor="middle">120</text>
<text transform="translate(291.12,277.6) rotate(0.05)" text-anchor="middle">140</text>
<text transform="translate(328.88,277.6) rotate(0.05)" text-anchor="middle">160</text>
<text transform="translate(366.64,277.6) rotate(0.05)" text-anchor="middle">180</text>
<text transform="translate(404.40,277.6) rotate(0.05)" text-anchor="middle">200</text>
</g>
<text transform="translate(232.2,299.5) rotate(0.05)" text-anchor="middle">k</text>
<text transform="translate(16.55,138.1) rotate(-89.95)" text-anchor="middle">P(k)</text>
<g>
<text transform="translate(337.6,33.3) rotate(0.05)" text-anchor="end">A</text>
<text transform="translate(337.6,47.9) rotate(0.05)" text-anchor="end">B</text>
<text transform="translate(337.6,62.5) rotate(0.05)" text-anchor="end">C</text>
</g>
<g fill="none">
<path d="M346.2,28.45H385.1" stroke="#ff0000" stroke-width="1.6"/>
<path d="M346.0,43.0H385.1" stroke="#0000ff" stroke-width="1.6" stroke-dasharray="1.5,1.58"/>
<path d="M346.0,57.45H385.1" stroke="#ff00ff" stroke-width="1.65" stroke-dasharray="0.95,0.5"/>
</g>
</svg>
</body></html>
